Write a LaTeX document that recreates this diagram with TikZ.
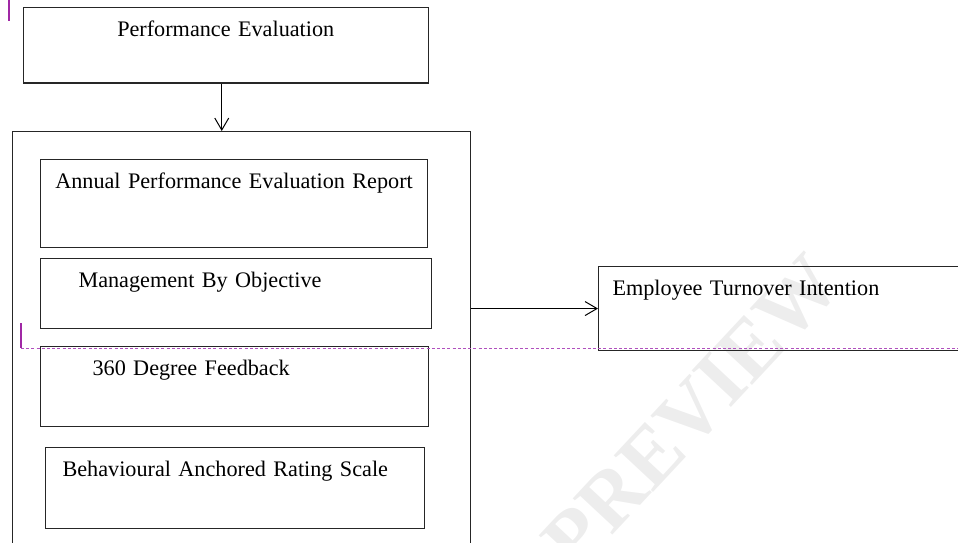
\documentclass[tikz,border=0pt]{standalone}
\usepackage{fontspec}
\setmainfont{Liberation Serif}
\usetikzlibrary{arrows.meta,positioning}
\definecolor{trackpink}{RGB}{176,80,190}
\definecolor{trackmark}{RGB}{160,40,165}
\tikzset{
  card/.style  = {draw=black!85, line width=1.1pt, inner ysep=0pt, align=left, anchor=north west,
                  text height=29pt, font=\fontsize{22.2}{26}\selectfont},
  frame/.style = {draw=black!85, line width=1.1pt, anchor=north west},
  link/.style  = {-{Straight Barb[length=12pt,width=14pt,line width=1pt]}, line width=1pt},
  guide/.style = {draw=trackpink, line width=1.6pt, dash pattern=on 3pt off 2.2pt},
  edit/.style  = {draw=trackmark, line width=1.3pt},
  stampstyle/.style = {rotate=47, text=gray!14, font=\fontsize{82}{82}\selectfont\bfseries},
}

\begin{document}
\begin{tikzpicture}[x=1pt,y=-1pt]
    \clip (0,0) rectangle (958,543);
    \node[stampstyle] (stamp) at (692,412) {PREVIEW};

    \node[card,align=center,inner xsep=10pt,text width=385pt,text depth=46.7pt] (eval) at (22.7,6.7) {Performance Evaluation};
    \node[frame,minimum width=458pt,minimum height=460pt] (methods) at (12,131) {};
    \node[card,align=center,inner xsep=10pt,text width=367pt,text depth=59pt] (annual) at (40,159) {Annual Performance Evaluation Report};
    \node[card,below=10pt of annual.south west,anchor=north west,inner xsep=38pt,text width=315pt,text depth=40.5pt] (mbo) {Management By Objective};
    \node[card,below=17pt of mbo.south west,anchor=north west,inner xsep=52pt,text width=284pt,text depth=51pt] (feedback) {360 Degree Feedback};
    \node[card,below right=20pt and 5pt of feedback.south west,inner xsep=17pt,text width=345pt,text depth=52pt] (bars) {Behavioural Anchored Rating Scale};
    \node[card,inner xsep=14pt,text width=372pt,text depth=55pt] (turnover) at (598,266) {Employee Turnover Intention};

    \draw[link] ([xshift=-4pt]eval.south) -- ([xshift=-4pt]eval.south |- methods.north);
    \draw[link] (methods.east |- turnover.west) -- (turnover.west);

    % tracked-change marks
    \draw[guide] (21,348.5) -- (958,348.5);
    \draw[edit] (9,0) -- (9,21);
    \draw[edit] (21,323) -- (21,348);
  \end{tikzpicture}
\end{document}
